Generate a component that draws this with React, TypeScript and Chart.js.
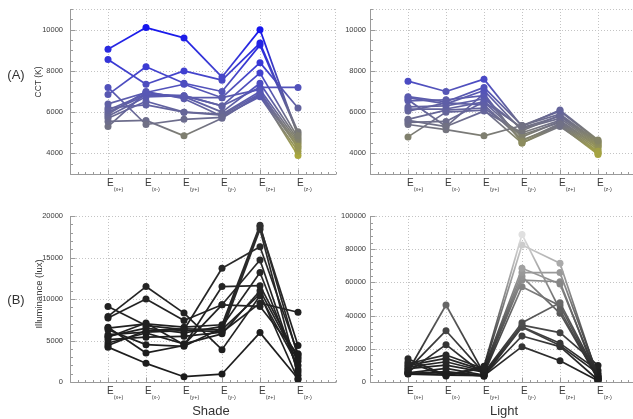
import React, { useEffect, useRef } from "react";
import { Chart, registerables } from "chart.js";
Chart.register(...registerables);

const categories = ["x+", "x-", "y+", "y-", "z+", "z-"];

// CCT (K) — Shade
const shadeCCT: number[][] = [
  [9050, 10100, 9600, 7700, 10000, 4850],
  [8550, 7350, 8000, 7550, 9350, 5050],
  [7200, 5400, 5650, 5750, 6800, 4350],
  [6850, 8200, 7400, 7000, 9250, 4950],
  [6400, 6950, 7350, 6700, 8400, 6200],
  [6200, 6350, 6000, 5900, 7000, 4250],
  [6100, 6880, 6800, 6300, 7900, 4750],
  [6000, 6820, 6750, 6000, 7400, 4650],
  [5900, 7000, 6650, 5800, 6750, 4100],
  [5800, 6740, 6800, 6300, 7200, 7200],
  [5700, 6530, 6000, 5850, 6900, 4450],
  [5550, 5600, 4850, 5700, 6850, 3900],
  [5300, 6950, 6700, 6700, 7100, 4550],
];

// CCT (K) — Light
const lightCCT: number[][] = [
  [7500, 7000, 7600, 5300, 6100, 4650],
  [6750, 6500, 7200, 5350, 6050, 4600],
  [6700, 6400, 7050, 5100, 5850, 4500],
  [6600, 5300, 6900, 4500, 5400, 4000],
  [6550, 6600, 6800, 4600, 5450, 4100],
  [6250, 6300, 6650, 5200, 5700, 4400],
  [6150, 6150, 6500, 4800, 5550, 4300],
  [6050, 6450, 6350, 4650, 5350, 3950],
  [5650, 6100, 6200, 4900, 5500, 4200],
  [5600, 5300, 6050, 5000, 5600, 4350],
  [5500, 5550, 6500, 5250, 5800, 4450],
  [5400, 5150, 4850, 5350, 5900, 4550],
  [4800, 6000, 6100, 4500, 5300, 4050],
];

// Illuminance (lux) — Shade
const shadeLux: number[][] = [
  [4200, 2250, 640, 960, 5950, 400],
  [7900, 11500, 8300, 3900, 10400, 2000],
  [7700, 10000, 7400, 9300, 14700, 1200],
  [9100, 6800, 6300, 13700, 16300, 3400],
  [6600, 3500, 4400, 11500, 11600, 2800],
  [6500, 7000, 6600, 6900, 18900, 3050],
  [6300, 4500, 4300, 6500, 18700, 4400],
  [5700, 6000, 6200, 6100, 18400, 800],
  [5500, 6500, 5900, 6700, 13200, 1500],
  [5100, 5400, 5500, 6000, 9500, 8400],
  [4700, 5900, 4600, 5800, 11000, 2500],
  [4400, 6200, 6400, 6300, 10600, 300],
  [5400, 7100, 4500, 9300, 9100, 3300],
];

// Illuminance (lux) — Light
const lightLux: number[][] = [
  [14000, 4000, 9500, 88900, 43400, 1500],
  [12000, 3600, 8500, 82500, 71500, 2500],
  [11000, 16300, 8000, 68500, 59000, 3000],
  [10000, 14200, 7000, 65900, 65900, 4000],
  [9000, 12200, 6500, 63500, 41400, 2000],
  [8000, 10200, 6000, 61400, 60400, 1000],
  [7500, 30900, 5500, 35700, 47800, 3500],
  [6500, 46400, 5000, 57400, 46000, 2200],
  [6000, 22500, 4500, 34300, 29700, 10000],
  [5500, 8200, 4200, 33300, 23300, 7000],
  [5000, 6200, 4000, 27700, 21300, 1200],
  [4800, 4200, 3800, 21300, 12800, 800],
  [5200, 5500, 3500, 33000, 22000, 5200],
];

const cctTicks = [4000, 6000, 8000, 10000];
const shadeLuxTicks = [0, 5000, 10000, 15000, 20000];
const lightLuxTicks = [0, 20000, 40000, 60000, 80000, 100000];

const FONT = "'Liberation Sans', Arial, sans-serif";

const cctStops: [number, number[]][] = [
  [3900, [170, 168, 60]],
  [4600, [135, 135, 100]],
  [5200, [115, 115, 128]],
  [6000, [102, 102, 152]],
  [7000, [86, 86, 182]],
  [8000, [64, 64, 208]],
  [10000, [22, 22, 238]],
];

function cctColor(v: number): string {
  if (v <= cctStops[0][0]) return `rgb(${cctStops[0][1].join(",")})`;
  for (let i = 1; i < cctStops.length; i++) {
    if (v <= cctStops[i][0]) {
      const [a, ca] = cctStops[i - 1];
      const [b, cb] = cctStops[i];
      const t = (v - a) / (b - a);
      const c = ca.map((x, k) => Math.round(x + (cb[k] - x) * t));
      return `rgb(${c.join(",")})`;
    }
  }
  return `rgb(${cctStops[cctStops.length - 1][1].join(",")})`;
}

function luxColor(v: number): string {
  const t = Math.max(0, Math.min(1, v / 90000));
  const g = Math.round(28 + 200 * Math.pow(t, 1.5));
  return `rgb(${g},${g},${g})`;
}

type PanelProps = {
  series: number[][];
  yMin: number;
  yMax: number;
  majors: number[];
  minorStep: number;
  colorFn: (v: number) => string;
  left: number;
  top: number;
  w: number;
  h: number;
  pad: { left: number; top: number; right: number; bottom: number };
  labelGap: number;
};

function Panel(p: PanelProps) {
  const ref = useRef<HTMLCanvasElement | null>(null);
  useEffect(() => {
    if (!ref.current) return;
    const axisPlugin = {
      id: "mmaAxes",
      beforeDatasetsDraw(chart: any) {
        const ctx = chart.ctx;
        const a = chart.chartArea;
        const xs = chart.scales.x;
        const ys = chart.scales.y;
        ctx.save();
        ctx.strokeStyle = "#c4c4c4";
        ctx.lineWidth = 1;
        ctx.setLineDash([1, 2]);
        for (let i = 1; i <= categories.length; i++) {
          const x = Math.round(xs.getPixelForValue(i)) + 0.5;
          ctx.beginPath();
          ctx.moveTo(x, a.top);
          ctx.lineTo(x, a.bottom);
          ctx.stroke();
        }
        for (const v of p.majors) {
          if (v <= p.yMin) continue;
          const y = Math.round(ys.getPixelForValue(v)) + 0.5;
          ctx.beginPath();
          ctx.moveTo(a.left, y);
          ctx.lineTo(a.right, y);
          ctx.stroke();
        }
        ctx.beginPath();
        ctx.moveTo(a.left, Math.round(a.top) + 0.5);
        ctx.lineTo(a.right, Math.round(a.top) + 0.5);
        ctx.moveTo(Math.round(a.right) - 0.5, a.top);
        ctx.lineTo(Math.round(a.right) - 0.5, a.bottom);
        ctx.stroke();
        ctx.setLineDash([]);
        ctx.strokeStyle = "#9a9a9a";
        const ax = Math.round(a.left) + 0.5;
        const ay = Math.round(a.bottom) + 0.5;
        ctx.beginPath();
        ctx.moveTo(ax, a.top);
        ctx.lineTo(ax, ay);
        ctx.lineTo(a.right, ay);
        ctx.stroke();
        ctx.beginPath();
        for (let v = p.yMin; v <= p.yMax + 1e-6; v += p.minorStep) {
          const y = Math.round(ys.getPixelForValue(v)) + 0.5;
          const major = p.majors.includes(v);
          ctx.moveTo(ax, y);
          ctx.lineTo(ax + (major ? 5 : 2.5), y);
        }
        for (let k = 0; k <= 35; k++) {
          const v = k / 5;
          const x = Math.round(xs.getPixelForValue(v)) + 0.5;
          const major = k % 5 === 0 && k > 0 && k <= 30;
          ctx.moveTo(x, ay);
          ctx.lineTo(x, ay - (major ? 5 : 2.5));
        }
        ctx.stroke();
        ctx.fillStyle = "#3a3a3a";
        ctx.font = `7.5px ${FONT}`;
        ctx.textAlign = "right";
        ctx.textBaseline = "middle";
        for (const v of p.majors) {
          ctx.fillText(String(v), a.left - p.labelGap, ys.getPixelForValue(v));
        }
        ctx.textAlign = "left";
        ctx.textBaseline = "alphabetic";
        categories.forEach((c, i) => {
          const x = xs.getPixelForValue(i + 1) - 1;
          ctx.font = `10px ${FONT}`;
          ctx.fillText("E", x, a.bottom + 12);
          const ew = ctx.measureText("E").width;
          ctx.font = `5.5px ${FONT}`;
          ctx.fillText(`(${c})`, x + ew, a.bottom + 17);
        });
        ctx.restore();
      },
    };

    const datasets = p.series.map((vals) => ({
      data: vals.map((v, i) => ({ x: i + 1, y: v })),
      borderWidth: 1.7,
      pointRadius: 3.5,
      pointBorderWidth: 0,
      pointBackgroundColor: vals.map((v) => p.colorFn(v)),
      borderColor: p.colorFn(vals[0]),
      segment: {
        borderColor: (sc: any) => {
          const c = sc.chart.ctx;
          const g = c.createLinearGradient(sc.p0.x, sc.p0.y, sc.p1.x, sc.p1.y);
          g.addColorStop(0, p.colorFn(vals[sc.p0DataIndex]));
          g.addColorStop(1, p.colorFn(vals[sc.p1DataIndex]));
          return g;
        },
      },
    }));

    const chart = new Chart(ref.current, {
      type: "line",
      data: { datasets },
      options: {
        animation: false,
        responsive: false,
        devicePixelRatio: 1,
        layout: { padding: p.pad },
        plugins: { legend: { display: false }, tooltip: { enabled: false } },
        scales: {
          x: { type: "linear", min: 0, max: 7, display: false },
          y: { type: "linear", min: p.yMin, max: p.yMax, display: false },
        },
      },
      plugins: [axisPlugin],
    } as any);
    return () => chart.destroy();
  }, []);
  return (
    <canvas
      ref={ref}
      width={p.w}
      height={p.h}
      style={{ position: "absolute", left: p.left, top: p.top, width: p.w, height: p.h }}
    />
  );
}

const textBase: React.CSSProperties = {
  position: "absolute",
  whiteSpace: "nowrap",
  color: "#333",
  fontFamily: FONT,
};

export default function App() {
  return (
    <div
      style={{
        position: "absolute",
        left: 0,
        top: 0,
        width: 633,
        height: 419,
        overflow: "hidden",
        background: "#fff",
      }}
    >
      <Panel series={shadeCCT} yMin={3000} yMax={11000} majors={cctTicks} minorStep={500} colorFn={cctColor}
        left={0} top={0} w={340} h={200} pad={{ left: 70, top: 9, right: 2, bottom: 26 }} labelGap={7} />
      <Panel series={lightCCT} yMin={3000} yMax={11000} majors={cctTicks} minorStep={500} colorFn={cctColor}
        left={340} top={0} w={300} h={200} pad={{ left: 30, top: 9, right: 2, bottom: 26 }} labelGap={4} />
      <Panel series={shadeLux} yMin={0} yMax={20000} majors={shadeLuxTicks} minorStep={1000} colorFn={luxColor}
        left={0} top={200} w={340} h={219} pad={{ left: 70, top: 16, right: 2, bottom: 37 }} labelGap={7} />
      <Panel series={lightLux} yMin={0} yMax={100000} majors={lightLuxTicks} minorStep={4000} colorFn={luxColor}
        left={340} top={200} w={300} h={219} pad={{ left: 30, top: 16, right: 2, bottom: 37 }} labelGap={4} />

      <div style={{ ...textBase, left: 16, top: 74, fontSize: 13, transform: "translate(-50%,-50%)" }}>(A)</div>
      <div style={{ ...textBase, left: 16, top: 299, fontSize: 13, transform: "translate(-50%,-50%)" }}>(B)</div>
      <div style={{ ...textBase, left: 38, top: 82, fontSize: 8.5, transform: "translate(-50%,-50%) rotate(-90deg)" }}>CCT (K)</div>
      <div style={{ ...textBase, left: 38, top: 294, fontSize: 9.5, transform: "translate(-50%,-50%) rotate(-90deg)" }}>Illuminance (lux)</div>
      <div style={{ ...textBase, left: 211, top: 410, fontSize: 13, transform: "translate(-50%,-50%)" }}>Shade</div>
      <div style={{ ...textBase, left: 504, top: 410, fontSize: 13, transform: "translate(-50%,-50%)" }}>Light</div>
    </div>
  );
}
